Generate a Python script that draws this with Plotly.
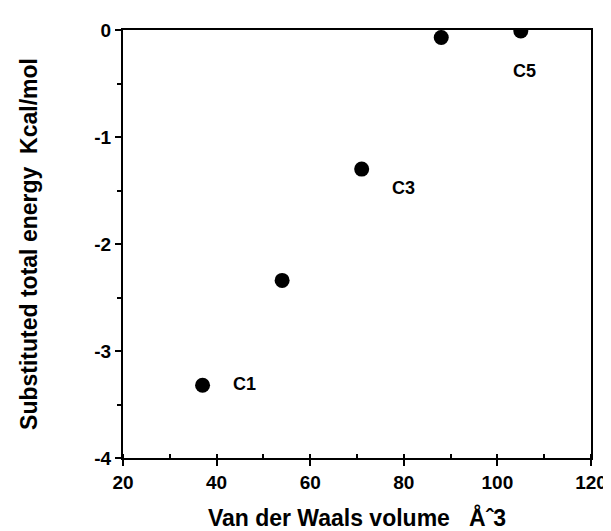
import plotly.graph_objects as go

volume = [37, 54, 71, 88, 105]
energy = [-3.32, -2.34, -1.30, -0.07, -0.01]
point_labels = ["C1", "", "C3", "", "C5"]
label_shift_x = [42, 0, 42, 0, 4]
label_shift_y = [1, 0, -19, 0, -40]

x_ticks = [20, 40, 60, 80, 100, 120]
y_ticks = [0, -1, -2, -3, -4]

FONT = "Liberation Sans, Arial, sans-serif"

fig = go.Figure()
fig.add_trace(go.Scatter(
    x=volume, y=energy, mode="markers",
    marker=dict(size=15, color="black"),
    showlegend=False,
))

for xv, yv, lab, dx, dy in zip(volume, energy, point_labels, label_shift_x, label_shift_y):
    if lab:
        fig.add_annotation(x=xv, y=yv, text="<b>%s</b>" % lab, showarrow=False,
                           xshift=dx, yshift=dy,
                           font=dict(family=FONT, size=18, color="black"))

fig.update_layout(
    width=611, height=531,
    margin=dict(l=115, r=18, t=22, b=79),
    plot_bgcolor="white", paper_bgcolor="white",
    font=dict(family=FONT, color="black"),
)

fig.update_xaxes(
    range=[20, 120], tickvals=x_ticks, ticktext=["<b>%d</b>" % v for v in x_ticks],
    showgrid=False, zeroline=False,
    showline=True, linecolor="black", linewidth=2, mirror=True,
    ticks="outside", ticklen=6, tickwidth=2, tickcolor="black",
    minor=dict(ticks="inside", dtick=10, ticklen=4, tickwidth=1.5, tickcolor="black", showgrid=False),
    tickfont=dict(family=FONT, size=19, weight="bold", color="black"),
    title=dict(text="<b>Van der Waals volume\u00a0\u00a0\u00a0\u00c5\u02c63</b>",
               font=dict(family=FONT, size=23), standoff=18),
)
fig.update_yaxes(
    range=[-4, 0], tickvals=y_ticks, ticktext=["<b>%d</b>" % v for v in y_ticks],
    showgrid=False, zeroline=False,
    showline=True, linecolor="black", linewidth=2, mirror=True,
    ticks="outside", ticklen=6, tickwidth=2, tickcolor="black",
    minor=dict(ticks="outside", dtick=0.5, ticklen=4, tickwidth=1.5, tickcolor="black", showgrid=False),
    tickfont=dict(family=FONT, size=19, weight="bold", color="black"),
    title=dict(text="<b>Substituted total energy\u00a0\u00a0Kcal/mol</b>",
               font=dict(family=FONT, size=23), standoff=50),
)

fig.write_html("out.html")
